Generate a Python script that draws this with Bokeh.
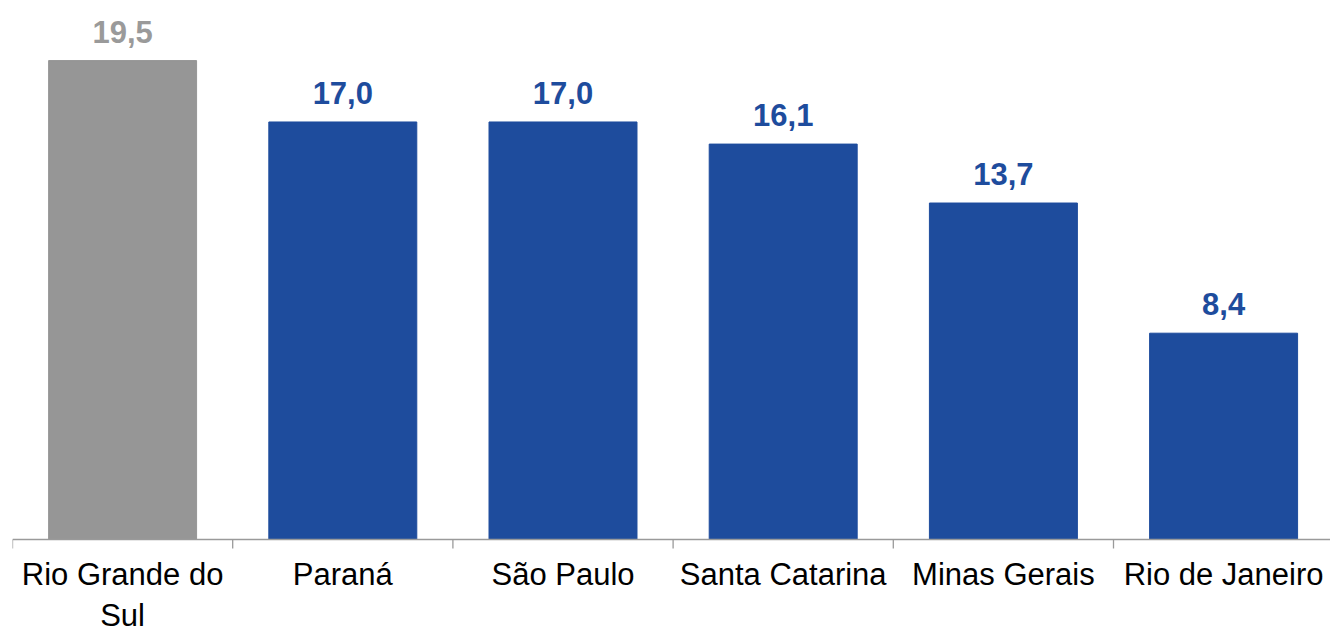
from bokeh.plotting import figure
from bokeh.models import Range1d, ColumnDataSource, LabelSet, Span
from bokeh.embed import file_html
from bokeh.resources import INLINE
from bokeh.core.properties import value

categories = ["Rio Grande do\nSul", "Paraná", "São Paulo", "Santa Catarina", "Minas Gerais", "Rio de Janeiro"]
values = [19.5, 17.0, 17.0, 16.1, 13.7, 8.4]
highlight = [True, False, False, False, False, False]

GRAY = "#969696"
GRAY_TXT = "#9a9a9a"
BLUE = "#1E4C9D"
AXIS = "#9A9A9A"

W, H = 1330, 626
LEFT = 12            # frame left border (px)
AXIS_Y = 539         # baseline pixel row
Y_TOP = 21.946       # data value at top of frame
px_per_unit = AXIS_Y / Y_TOP
y_bottom = -(H - AXIS_Y) / px_per_unit
tick_len = 9 / px_per_unit

xs = list(range(len(categories)))
bounds = [i - 0.5 for i in range(len(categories) + 1)]

src = ColumnDataSource(dict(
    x=xs,
    top=values,
    cat=categories,
    color=[GRAY if h else BLUE for h in highlight],
    tcolor=[GRAY_TXT if h else BLUE for h in highlight],
    label=[f"{v:.1f}".replace(".", ",") for v in values],
))

p = figure(width=W, height=H, output_backend="svg", toolbar_location=None,
           x_range=Range1d(-0.5, -0.5 + (W - LEFT) / 220.2), y_range=Range1d(y_bottom, Y_TOP),
           min_border_left=LEFT, min_border_right=0, min_border_top=0, min_border_bottom=0,
           x_axis_location=None, y_axis_location=None)
p.outline_line_color = None
p.xgrid.visible = False
p.ygrid.visible = False
p.background_fill_color = "white"

p.vbar(x="x", top="top", width=0.672, bottom=0, color="color", source=src)

# axis baseline and boundary ticks
p.add_layout(Span(location=0, dimension="width", line_color=AXIS, line_width=1.6))
p.segment(x0=bounds, y0=[0] * len(bounds), x1=bounds, y1=[-tick_len] * len(bounds),
          line_color=AXIS, line_width=1.3)

# value labels
p.add_layout(LabelSet(x="x", y="top", text="label", text_color="tcolor", source=src,
                      text_align="center", text_baseline="alphabetic", y_offset=18,
                      text_font=value("Liberation Sans"), text_font_size=value("31px"),
                      text_font_style=value("bold")))

# category labels
p.text(x="x", y=0, text="cat", source=src, text_color="black",
       text_align="center", text_baseline="top", y_offset=17,
       text_line_height=1.18,
       text_font=value("Liberation Sans"), text_font_size=value("31px"))

open("out.html", "w").write(file_html(p, INLINE))
